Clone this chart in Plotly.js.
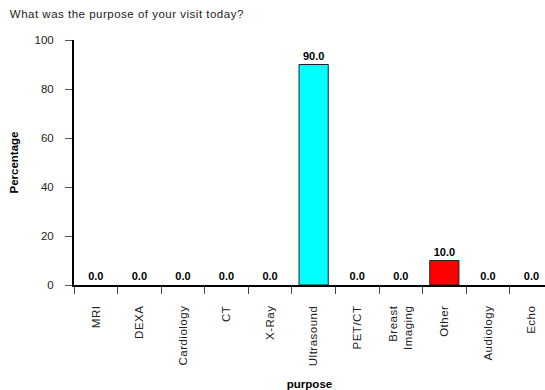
<!DOCTYPE html>
<html><head><meta charset="utf-8">
<script src="https://cdn.plot.ly/plotly-3.0.1.min.js"></script>
<style>html,body{margin:0;padding:0;background:#fff}#chart{width:545px;height:390px}
#chart .xtick text, #chart .gtitle {letter-spacing:0.5px}</style>
</head><body><div id="chart"></div>
<script>
const categories = ["MRI","DEXA","Cardiology","CT","X-Ray","Ultrasound","PET/CT","Breast<br>Imaging","Other","Audiology","Echo"];
const percentages = [0.0,0.0,0.0,0.0,0.0,90.0,0.0,0.0,10.0,0.0,0.0];
const barColors = ["#00ffff","#00ffff","#00ffff","#00ffff","#00ffff","#00ffff","#00ffff","#00ffff","#ff0000","#00ffff","#00ffff"];
const yTicks = [0,20,40,60,80,100];

const font = "Liberation Sans, Arial, sans-serif";
const trace = {
  type: "bar",
  x: categories,
  y: percentages,
  width: 0.67,
  marker: {color: barColors, line: {color: "#222", width: percentages.map(v => v > 0 ? 1 : 0)}},
  text: percentages.map(v => "<b>" + v.toFixed(1) + "</b>"),
  textposition: "outside",
  textfont: {family: font, size: 11, color: "#000"},
  cliponaxis: false,
  hoverinfo: "none"
};
const layout = {
  width: 545, height: 390,
  margin: {l: 74, r: 0, t: 40, b: 105},
  paper_bgcolor: "#fff", plot_bgcolor: "#fff",
  showlegend: false,
  title: {text: "What was the purpose of your visit today?", x: 0.018, xanchor: "left", y: 0.975, yanchor: "top",
          font: {family: font, size: 11.5, color: "#222"}},
  xaxis: {
    type: "category",
    range: [-0.5, 10.31],
    tickangle: -90,
    ticks: "outside", tickson: "boundaries", ticklen: 7, tickcolor: "#444", tickwidth: 1,
    ticklabelstandoff: 14,
    showline: true, linecolor: "#000", linewidth: 2,
    showgrid: false, zeroline: false,
    tickfont: {family: font, size: 11.5, color: "#222"},
    title: {text: "<b>purpose</b>", font: {family: font, size: 11.5, color: "#000"}, standoff: 28},
    automargin: false, fixedrange: true
  },
  yaxis: {
    range: [0, 100],
    tickvals: yTicks,
    ticks: "outside", ticklen: 7, tickcolor: "#555", tickwidth: 1,
    ticklabelstandoff: 9,
    showline: true, linecolor: "#000", linewidth: 2,
    showgrid: false, zeroline: false,
    tickfont: {family: font, size: 11.5, color: "#222"},
    title: {text: "<b>Percentage</b>", font: {family: font, size: 11.5, color: "#000"}, standoff: 13},
    automargin: false, fixedrange: true
  },
  bargap: 0.33
};
Plotly.newPlot("chart", [trace], layout, {displayModeBar: false, staticPlot: true});
</script></body></html>
